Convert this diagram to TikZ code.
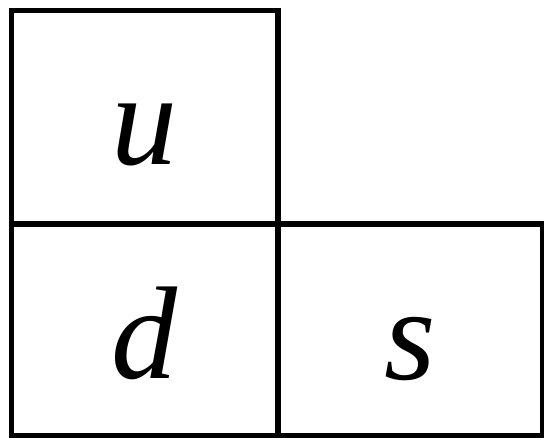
\documentclass[tikz,border=0pt]{standalone}
\usepackage{fontspec}
\setmainfont{Liberation Serif}
\begin{document}
\begin{tikzpicture}[x=1pt,y=-1pt,
  cell/.style={draw=black,line width=5.5pt},
  lbl/.style={inner sep=0pt,anchor=base,font=\fontsize{132}{132}\selectfont\itshape}]
\useasboundingbox (0,0) rectangle (544,437);
\draw[cell] (11.5,10.5) rectangle (278,224);
\draw[cell] (11.5,224) rectangle (278,435.5);
\draw[cell] (278,224) rectangle (542.5,435.5);
\node[lbl] (u) at (144,164) {u};
\node[lbl] (d) at (144,378) {d};
\node[lbl] (s) at (410,379) {s};
\end{tikzpicture}
\end{document}
